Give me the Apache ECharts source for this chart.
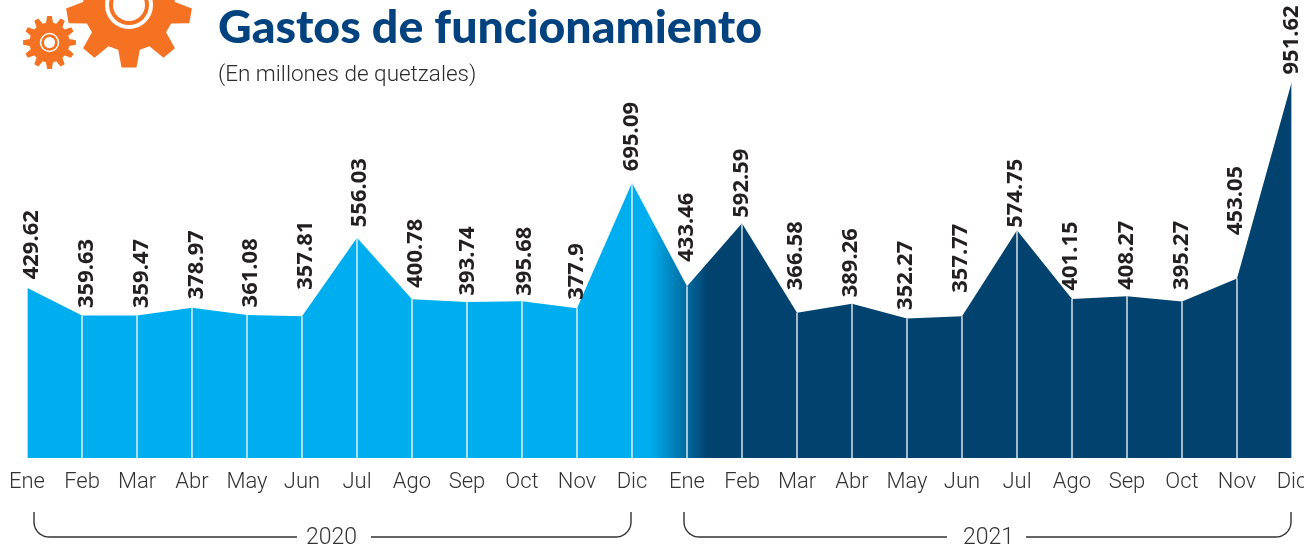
<!DOCTYPE html>
<html><head><meta charset="utf-8">
<style>html,body{margin:0;padding:0;background:#fff}#c{width:1304px;height:548px}</style>
<script src="https://cdn.jsdelivr.net/npm/echarts@6/dist/echarts.min.js"></script>
</head><body><div id="c"></div>
<script>
const months = ['Ene','Feb','Mar','Abr','May','Jun','Jul','Ago','Sep','Oct','Nov','Dic','Ene','Feb','Mar','Abr','May','Jun','Jul','Ago','Sep','Oct','Nov','Dic'];
const gastos = [429.62,359.63,359.47,378.97,361.08,357.81,556.03,400.78,393.74,395.68,377.9,695.09,433.46,592.59,366.58,389.26,352.27,357.77,574.75,401.15,408.27,395.27,453.05,951.62];
const labelGap = [8,7,7,8,7,26,10,11,6,5,8,11,24,5,22,6,8,23,2,8,6,11,43,6];
const labelShift = [5,5,5,5,4,4,3,4,1,3,0,0,0,0,-1,-1,-1,-1,-1,-1,0,0,-1,0];

function gear(cx,cy,rOut,rIn,teeth){
  const pts=[],st=2*Math.PI/teeth;
  for(let i=0;i<teeth;i++){
    const a=Math.PI/2+i*st;
    [[-.34,rIn],[-.17,rOut],[.17,rOut],[.34,rIn]].forEach(([f,r])=>{
      pts.push([cx+r*Math.cos(a+f*st),cy+r*Math.sin(a+f*st)]);
    });
  }
  return {type:'polygon',shape:{points:pts},style:{fill:'#F57223'},silent:true};
}
function ring(cx,cy,r,fill,stroke,lw){return {type:'circle',shape:{cx,cy,r},style:{fill,stroke,lineWidth:lw},silent:true};}
function bracket(x0,x1,xa,xb,top,y){
  const R=15,st={fill:'none',stroke:'#333335',lineWidth:1.4};
  const arc=(cx,s)=>{const p=[];for(let k=0;k<=12;k++){const t=k/12*Math.PI/2;p.push([cx+s*R*Math.cos(t),y-R+R*Math.sin(t)]);}return p;};
  return [
    {type:'polyline',shape:{points:[[x0,top],...arc(x0+R,-1),[xa,y]]},style:st,silent:true},
    {type:'polyline',shape:{points:[[xb,y],...arc(x1-R,1).reverse(),[x1,top]]},style:st,silent:true}
  ];
}
const chart=echarts.init(document.getElementById('c'),null,{renderer:'canvas'});
chart.setOption({
  animation:false,
  backgroundColor:'#fff',
  grid:{left:27,right:12,top:81,bottom:90,outerBoundsMode:'none'},
  xAxis:{type:'category',boundaryGap:false,data:months,
    axisLine:{show:false},axisTick:{show:false},splitLine:{show:false},
    axisLabel:{interval:0,margin:13,fontSize:22,color:'#333335',fontFamily:'Roboto',fontWeight:300}},
  yAxis:{type:'value',min:0,max:951.62,show:false,splitLine:{show:false}},
  series:[
   {type:'line',z:2,data:gastos,symbol:'none',lineStyle:{width:0},smooth:false,
    areaStyle:{opacity:1,color:new echarts.graphic.LinearGradient(0,0,1,0,[
      {offset:0,color:'#00AEEF'},{offset:0.4925,color:'#00AEEF'},
      {offset:0.538,color:'#02426F'},{offset:1,color:'#02426F'}])}},
   {type:'bar',z:3,data:gastos,barWidth:1.5,itemStyle:{color:'rgba(255,255,255,0.85)'}},
   {type:'line',z:4,data:gastos.map((v,i)=>({value:v,label:{offset:[labelGap[i],labelShift[i]]}})),
    symbol:'circle',symbolSize:1,itemStyle:{color:'transparent'},showSymbol:true,showAllSymbol:true,lineStyle:{width:0},
    label:{show:true,position:'top',distance:0,rotate:90,align:'left',verticalAlign:'middle',opacity:1,
      fontSize:22,fontWeight:700,color:'#231F20',fontFamily:'"Open Sans"',formatter:p=>String(p.value)}}
  ],
  graphic:[
    gear(129,5,63,46,9),
    ring(129,5,24,'#fff',null,0),
    ring(129,5,20,'#F57223',null,0),
    ring(129,5,16,'#fff',null,0),
    gear(49.5,42.5,26.5,20,12),
    ring(49.5,42.5,9.7,'#fff',null,0),
    ring(49.5,42.5,8.2,'#F57223',null,0),
    ring(49.5,42.5,5.5,'#fff',null,0),
    {type:'text',x:218,y:4,style:{text:'Gastos de funcionamiento',font:'900 46.5px Lato',fill:'#02437F'},silent:true},
    {type:'text',x:218,y:64,style:{text:'(En millones de quetzales)',font:'300 22.5px Roboto',fill:'#2b2b2d'},silent:true},
    ...bracket(34,631,297,371,512,537),
    ...bracket(684,1291,947,1026,512,537),
    {type:'text',x:306,y:527,style:{text:'2020',font:'300 23px Roboto',fill:'#333335'},silent:true},
    {type:'text',x:963,y:527,style:{text:'2021',font:'300 23px Roboto',fill:'#333335'},silent:true}
  ]
});
</script></body></html>
